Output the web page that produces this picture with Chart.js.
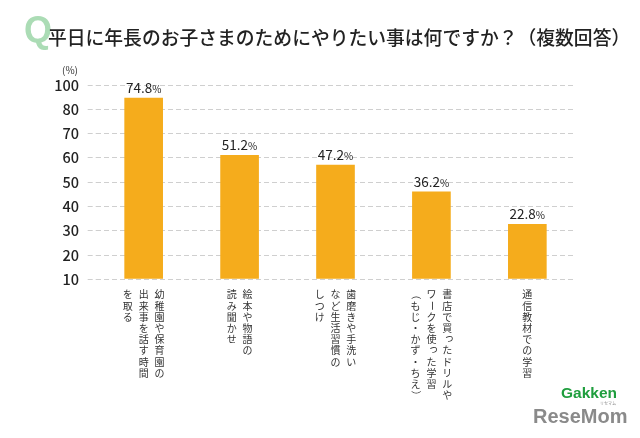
<!DOCTYPE html>
<html>
<head>
<meta charset="utf-8">
<script src="https://cdn.jsdelivr.net/npm/chart.js@4.4.0/dist/chart.umd.min.js"></script>
<style>
  html, body { margin: 0; padding: 0; background: #ffffff; }
  #wrap { width: 640px; height: 438px; position: relative; }
</style>
</head>
<body>
<div id="wrap"><canvas id="c" width="640" height="438"></canvas></div>
<script>
// ---- data ----
const categories = [
  ["幼稚園や保育園の", "出来事を話す時間", "を取る"],
  ["絵本や物語の", "読み聞かせ"],
  ["歯磨きや手洗い", "など生活習慣の", "しつけ"],
  ["書店で買ったドリルや", "ワークを使った学習", "（もじ・かず・ちえ）"],
  ["通信教材での学習"]
];
const values = [74.8, 51.2, 47.2, 36.2, 22.8];
const tickLabels = ["10", "20", "30", "40", "50", "60", "70", "80", "100"];
const titleText = "平日に年長のお子さまのためにやりたい事は何ですか？（複数回答）";
const unitText = "(%)";

const JP = '"Noto Sans CJK JP", "Noto Sans", sans-serif';
const BAR = '#F5AC1C';

const smallKana = new Set("っゃゅょぁぃぅぇぉッャュョァィゥェォ、。");
const rotateChars = new Set("ー（）()〜");

const decorPlugin = {
  id: 'decor',
  beforeDraw(chart) {
    const ctx = chart.ctx;
    ctx.save();
    ctx.fillStyle = '#ffffff';
    ctx.fillRect(0, 0, chart.width, chart.height);
    // big Q
    ctx.fillStyle = '#abdcb5';
    ctx.font = 'bold 36px "Liberation Sans", Arial, sans-serif';
    ctx.textBaseline = 'alphabetic';
    ctx.textAlign = 'left';
    ctx.fillText('Q', 24, 42);
    ctx.restore();
  },
  afterDraw(chart) {
    const ctx = chart.ctx;
    ctx.save();
    // title
    ctx.fillStyle = '#222222';
    ctx.font = '500 18.8px ' + JP;
    ctx.textBaseline = 'middle';
    ctx.textAlign = 'left';
    ctx.fillText(titleText, 48, 38);
    // unit
    ctx.font = '10px ' + JP;
    ctx.fillStyle = '#333333';
    ctx.fillText(unitText, 62, 70);

    // vertical category labels
    const xs = chart.scales.x;
    ctx.font = '10px ' + JP;
    ctx.fillStyle = '#333333';
    ctx.textAlign = 'center';
    ctx.textBaseline = 'middle';
    const colGap = 15.8, adv = 11.2, top = 289;
    categories.forEach((lines, i) => {
      const cx = xs.getPixelForValue(i);
      const n = lines.length;
      lines.forEach((line, li) => {
        const x = cx + (n - 1) / 2 * colGap - li * colGap;
        Array.from(line).forEach((ch, k) => {
          let y = top + adv / 2 + k * adv;
          if (rotateChars.has(ch)) {
            ctx.save();
            ctx.translate(x, y);
            ctx.rotate(Math.PI / 2);
            ctx.fillText(ch, 0, 0);
            ctx.restore();
          } else if (smallKana.has(ch)) {
            ctx.fillText(ch, x + 2, y - 2);
          } else {
            ctx.fillText(ch, x, y);
          }
        });
      });
    });

    // logo
    ctx.textAlign = 'left';
    ctx.textBaseline = 'alphabetic';
    ctx.fillStyle = '#1f9e3e';
    ctx.font = '900 15.5px "Liberation Sans", Arial, sans-serif';
    ctx.fillText('Gakken', 561, 398);
    ctx.fillStyle = '#8a8a8a';
    ctx.font = 'bold 20px "Liberation Sans", Arial, sans-serif';
    ctx.fillText('ReseMom', 533, 423);
    ctx.font = '4px ' + JP;
    ctx.fillText('リセマム', 600, 405);
    ctx.restore();
  },
  afterDatasetsDraw(chart) {
    const ctx = chart.ctx;
    const meta = chart.getDatasetMeta(0);
    ctx.save();
    ctx.fillStyle = '#222222';
    ctx.textBaseline = 'alphabetic';
    ctx.textAlign = 'left';
    meta.data.forEach((bar, i) => {
      const num = values[i].toFixed(1);
      ctx.font = '13.5px ' + JP;
      const w1 = ctx.measureText(num).width;
      ctx.font = '10px ' + JP;
      const w2 = ctx.measureText('%').width;
      const x0 = bar.x - (w1 + w2) / 2;
      const y = bar.y - 4.5;
      ctx.font = '13.5px ' + JP;
      ctx.fillText(num, x0, y);
      ctx.font = '10px ' + JP;
      ctx.fillText('%', x0 + w1, y);
    });
    ctx.restore();
  }
};

new Chart(document.getElementById('c'), {
  type: 'bar',
  data: {
    labels: categories.map(l => l.join('')),
    datasets: [{
      data: values,
      backgroundColor: BAR,
      borderWidth: 0,
      barPercentage: 0.403,
      categoryPercentage: 1.0
    }]
  },
  options: {
    responsive: false,
    animation: false,
    devicePixelRatio: 1,
    layout: { padding: { left: 0, right: 64.7, top: 85, bottom: 158.7 } },
    plugins: { legend: { display: false }, tooltip: { enabled: false }, title: { display: false } },
    scales: {
      x: {
        display: false
      },
      y: {
        min: 0,
        max: 80,
        afterFit(scale) { scale.width = 95.7; },
        ticks: {
          stepSize: 10,
          padding: 8.7,
          color: '#222222',
          font: { family: JP, size: 14.5, weight: '500' },
          callback: (v) => tickLabels[Math.round(v / 10)]
        },
        grid: {
          color: '#cfcfcf',
          lineWidth: 1,
          drawTicks: true,
          tickLength: 8,
          tickColor: '#cfcfcf',
          tickBorderDash: [5, 3]
        },
        border: { display: false, dash: [5, 3] }
      }
    }
  },
  plugins: [decorPlugin]
});
</script>
</body>
</html>
